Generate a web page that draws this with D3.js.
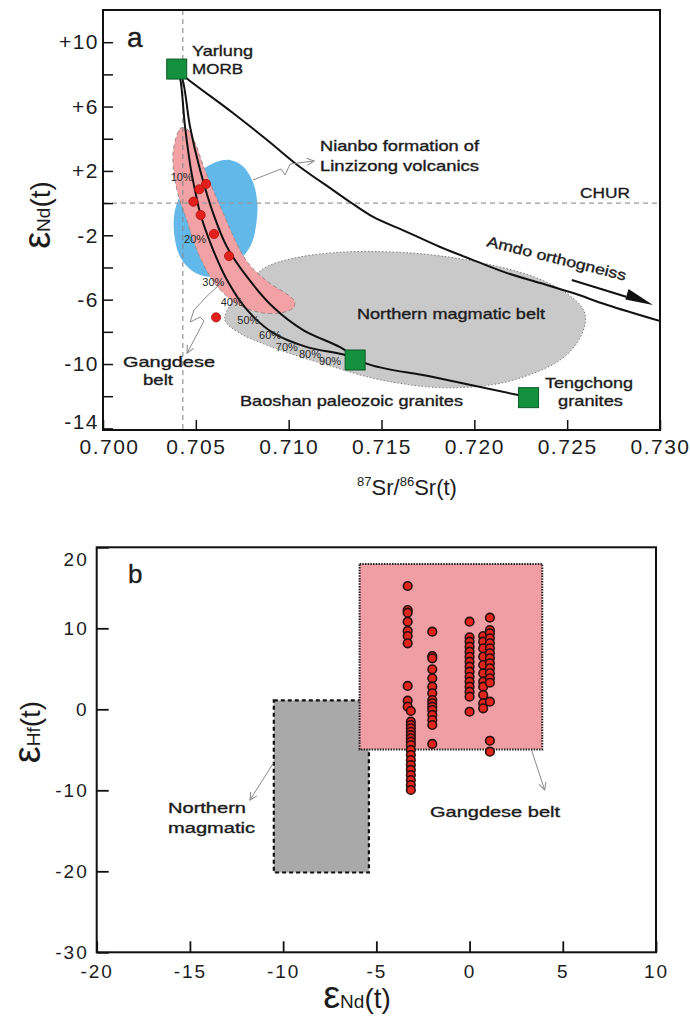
<!DOCTYPE html>
<html>
<head>
<meta charset="utf-8">
<script src="https://cdn.jsdelivr.net/npm/d3@7"></script>
<style>
  body { margin: 0; background: #fff; }
  svg { display: block; }
  text { font-family: "Liberation Sans", Arial, Helvetica, sans-serif; fill: #1c1c1c; }
  text.note { stroke: #1c1c1c; stroke-width: 0.35px; }
</style>
</head>
<body>
<svg id="chart" width="690" height="1017"></svg>
<script>
// ---------- Panel a : 87Sr/86Sr(t) vs eNd(t) ----------
const srTicks = [0.700, 0.705, 0.710, 0.715, 0.720, 0.725, 0.730];
const srTickLabels = ["0.700", "0.705", "0.710", "0.715", "0.720", "0.725", "0.730"];
const ndMajorTicks = [10, 6, 2, -2, -6, -10, -14];
const ndMajorLabels = ["+10", "+6", "+2", "-2", "-6", "-10", "-14"];
const ndMinorTicks = [8, 4, 0, -4, -8, -12];

// end-members [Sr, Nd]
const yarlungMORB = [0.70397, 8.33];
const baoshanGranite = [0.71358, -9.75];
const tengchongGranite = [0.72292, -12.09];

// Gangdese belt samples [Sr, Nd]
const gangdeseSr = [0.70555, 0.70519, 0.70487, 0.70526, 0.70598, 0.70679, 0.70609];
const gangdeseNd = [1.19, 0.86, 0.09, -0.74, -1.92, -3.29, -7.10];

// mixing curve: Yarlung MORB -> Baoshan paleozoic granites
const mixBaoshanSr = [0.70397, 0.70415, 0.70442, 0.70474, 0.70501, 0.70523, 0.70587, 0.70668, 0.70776, 0.70916, 0.71099, 0.71304, 0.71358];
const mixBaoshanNd = [8.33, 7.77, 4.73, 2.06, 0.50, -0.62, -2.73, -4.78, -6.64, -8.07, -8.95, -9.44, -9.75];

// mixing curve: Yarlung MORB -> Tengchong granites
const mixTengSr = [0.70397, 0.70426, 0.70469, 0.70523, 0.70593, 0.70668, 0.70776, 0.70916, 0.71078, 0.71277, 0.71412, 0.71778, 0.72236, 0.72292];
const mixTengNd = [8.33, 7.77, 4.73, 2.06, -0.62, -2.73, -4.59, -6.46, -7.89, -8.95, -9.94, -10.81, -11.93, -12.09];

// curve toward Amdo orthogneiss
const amdoSr = [0.70397, 0.70442, 0.70700, 0.70884, 0.71061, 0.71239, 0.71331, 0.71455, 0.71638, 0.71816, 0.71994, 0.72177, 0.72355, 0.72532, 0.72716, 0.73001];
const amdoNd = [8.33, 7.84, 5.60, 3.92, 2.24, 0.81, 0.07, -0.86, -1.80, -2.73, -3.54, -4.35, -4.97, -5.59, -6.33, -7.33];

// mixing proportions along the Baoshan curve
const mixPctLabels = ["10%", "20%", "30%", "40%", "50%", "60%", "70%", "80%", "90%"];
const mixPctSr = [0.70424, 0.70496, 0.70594, 0.70693, 0.70783, 0.70900, 0.70990, 0.71115, 0.71223];
const mixPctNd = [1.64, -2.23, -4.89, -6.13, -7.27, -8.20, -8.93, -9.38, -9.79];

// fields
const gangdeseFieldSr = [0.70420, 0.70393, 0.70377, 0.70383, 0.70409, 0.70447, 0.70485, 0.70533, 0.70603, 0.70711, 0.70835, 0.70954, 0.71024, 0.71034, 0.70997, 0.70889, 0.70781, 0.70711, 0.70652, 0.70593, 0.70539, 0.70496, 0.70458];
const gangdeseFieldNd = [4.67, 4.05, 2.99, 1.77, 0.34, -0.90, -2.27, -3.63, -5.00, -6.18, -6.77, -6.83, -6.52, -6.14, -5.71, -4.90, -3.72, -2.29, -0.74, 0.81, 2.37, 3.74, 4.54];

const nianboFieldSr = [0.70613, 0.70684, 0.70756, 0.70810, 0.70831, 0.70828, 0.70801, 0.70738, 0.70667, 0.70577, 0.70487, 0.70415, 0.70383, 0.70388, 0.70433, 0.70505, 0.70559];
const nianboFieldNd = [2.57, 2.68, 2.26, 1.23, -0.01, -1.05, -2.50, -3.53, -4.16, -4.57, -4.26, -3.33, -1.88, -0.43, 0.81, 1.75, 2.26];

const northernFieldSr = [0.70657, 0.70702, 0.70792, 0.70882, 0.71025, 0.71241, 0.71510, 0.71780, 0.72049, 0.72318, 0.72498, 0.72588, 0.72597, 0.72552, 0.72462, 0.72318, 0.72139, 0.71959, 0.71780, 0.71600, 0.71421, 0.71241, 0.71061, 0.70882, 0.70738];
const northernFieldNd = [-7.27, -6.02, -4.78, -3.95, -3.43, -3.08, -3.02, -3.23, -3.74, -4.57, -5.61, -6.64, -7.47, -8.71, -9.75, -10.58, -11.20, -11.45, -11.45, -11.20, -10.79, -10.17, -9.55, -8.82, -8.09];

// reference values
const churNd = 0;
const morbSrRef = 0.7043;

// leader lines [Sr, Nd]
const nianboLeaderSr = [0.70808, 0.70959, 0.70981, 0.71008, 0.71137];
const nianboLeaderNd = [1.44, 2.12, 1.75, 2.43, 2.62];
const gangdeseLeaderSr = [0.70636, 0.70555, 0.70490, 0.70469, 0.70523, 0.70544, 0.70453];
const gangdeseLeaderNd = [-4.97, -5.84, -6.65, -7.39, -7.08, -7.33, -9.32];
const amdoArrowSr = [0.72525, 0.72962];
const amdoArrowNd = [-4.78, -6.33];

// ---------- Panel b : eNd(t) vs eHf(t) ----------
const ndTicksB = [-20, -15, -10, -5, 0, 5, 10];
const ndTickLabelsB = ["-20", "-15", "-10", "-5", "0", "5", "10"];
const hfTicksB = [20, 10, 0, -10, -20, -30];
const hfTickLabelsB = ["20", "10", "0", "-10", "-20", "-30"];

// field extents [min, max]
const northernBoxNd = [-10.5, -5.4];
const northernBoxHf = [-20.15, 1.1];
const gangdeseBoxNd = [-5.9, 3.9];
const gangdeseBoxHf = [-4.95, 17.95];

// Gangdese samples, grouped by eNd(t)
const hfColumnNd = [-3.32, -3.15, -2.0, 0.0, 0.73, 1.09];
const hfColumnValues = [
  [15.22, 12.26, 11.93, 10.82, 9.67, 9.05, 8.15, 2.88, 1.06, 0.32],
  [-0.21, -1.53, -1.94, -2.35, -2.77, -3.17, -3.58, -4.00, -4.41, -5.02, -5.64, -6.26, -6.88, -7.49, -8.11, -8.73, -9.35, -9.96],
  [9.58, 6.58, 6.29, 4.94, 3.83, 2.79, 1.98, 1.15, 0.74, 0.32, -0.09, -0.70, -1.32, -1.94, -4.28],
  [10.82, 8.89, 8.35, 7.73, 7.11, 6.49, 5.88, 5.26, 4.64, 4.02, 3.41, 2.79, 2.17, 1.56, -0.30],
  [9.05, 8.35, 7.53, 6.49, 5.47, 4.44, 3.41, 2.79, 1.77, 0.74, 0.12],
  [11.31, 9.79, 9.38, 8.77, 8.15, 7.53, 6.91, 6.30, 5.68, 5.06, 4.44, 3.83, 3.28, 0.94, -3.88, -5.23]
];

const northernLeaderNd = [-10.53, -11.78];
const northernLeaderHf = [-6.67, -11.2];
const gangdeseLeaderNdB = [3.32, 4.03];
const gangdeseLeaderHfB = [-5.02, -9.96];

// ======================================================
const svg = d3.select("#chart");
const zip = (a, b) => a.map((v, i) => [v, b[i]]);

const xA = d3.scaleLinear().domain([0.700, 0.730]).range([103, 660]);
const yA = d3.scaleLinear().domain([-14.1, 12]).range([430, 10]);
const xB = d3.scaleLinear().domain([-20, 10]).range([96.7, 656]);
const yB = d3.scaleLinear().domain([-30, 20]).range([952.3, 547.3]);

const defs = svg.append("defs");
defs.append("marker").attr("id", "openArrow")
  .attr("viewBox", "0 0 10 10").attr("refX", 9).attr("refY", 5)
  .attr("markerWidth", 9).attr("markerHeight", 9).attr("orient", "auto")
  .attr("markerUnits", "userSpaceOnUse")
  .append("path").attr("d", "M1,1 L9,5 L1,9").attr("fill", "none")
  .attr("stroke", "#8a8a8a").attr("stroke-width", 1.2);

function label(g, x, y, str, size, opts = {}) {
  const t = g.append("text").attr("class", "note").attr("x", x).attr("y", y)
    .attr("font-size", size).text(str);
  if (opts.anchor) t.attr("text-anchor", opts.anchor);
  if (opts.width) t.attr("textLength", opts.width).attr("lengthAdjust", "spacingAndGlyphs");
  if (opts.transform) t.attr("transform", opts.transform);
  return t;
}

// ---------------- Panel a ----------------
const gA = svg.append("g");
const lineA = d3.line().x(d => xA(d[0])).y(d => yA(d[1]));
const smoothA = d3.line().x(d => xA(d[0])).y(d => yA(d[1])).curve(d3.curveCatmullRom.alpha(0.5));
const closedA = d3.line().x(d => xA(d[0])).y(d => yA(d[1])).curve(d3.curveCatmullRomClosed.alpha(0.5));

// Northern magmatic belt field
gA.append("path").attr("d", closedA(zip(northernFieldSr, northernFieldNd)))
  .attr("fill", "#c9c9c9").attr("stroke", "#7a7a7a").attr("stroke-width", 1)
  .attr("stroke-dasharray", "1.5,2");
// Nianbo formation field
gA.append("path").attr("d", closedA(zip(nianboFieldSr, nianboFieldNd)))
  .attr("fill", "#61b8e9").attr("stroke", "none");
// Gangdese belt field
gA.append("path").attr("d", closedA(zip(gangdeseFieldSr, gangdeseFieldNd)))
  .attr("fill", "#f2a2a5").attr("stroke", "#a08888").attr("stroke-width", 1)
  .attr("stroke-dasharray", "4,3");

// CHUR and reference dashed lines
gA.append("line").attr("x1", xA(0.700)).attr("x2", xA(0.730))
  .attr("y1", yA(churNd)).attr("y2", yA(churNd))
  .attr("stroke", "#9a9a9a").attr("stroke-width", 1.1).attr("stroke-dasharray", "5,4");
gA.append("line").attr("x1", xA(morbSrRef)).attr("x2", xA(morbSrRef))
  .attr("y1", yA(12)).attr("y2", yA(-14.1))
  .attr("stroke", "#8a8a8a").attr("stroke-width", 1.1).attr("stroke-dasharray", "5,4");

// curves
const clipA = defs.append("clipPath").attr("id", "clipA");
clipA.append("rect").attr("x", xA(0.700)).attr("y", yA(12)).attr("width", xA(0.730) - xA(0.700)).attr("height", yA(-14.1) - yA(12));
const curves = gA.append("g").attr("clip-path", "url(#clipA)");
[[mixBaoshanSr, mixBaoshanNd], [mixTengSr, mixTengNd], [amdoSr, amdoNd]].forEach(([sx, sy]) => {
  curves.append("path").attr("d", smoothA(zip(sx, sy)))
    .attr("fill", "none").attr("stroke", "#111").attr("stroke-width", 2);
});

// leader lines
gA.append("path").attr("d", lineA(zip(nianboLeaderSr, nianboLeaderNd)))
  .attr("fill", "none").attr("stroke", "#8a8a8a").attr("stroke-width", 1)
  .attr("marker-end", "url(#openArrow)");
gA.append("path").attr("d", lineA(zip(gangdeseLeaderSr, gangdeseLeaderNd)))
  .attr("fill", "none").attr("stroke", "#8a8a8a").attr("stroke-width", 1)
  .attr("marker-end", "url(#openArrow)");

// Amdo direction arrow
{
  const x1 = xA(amdoArrowSr[0]), y1 = yA(amdoArrowNd[0]);
  const x2 = xA(amdoArrowSr[1]), y2 = yA(amdoArrowNd[1]);
  const ang = Math.atan2(y2 - y1, x2 - x1);
  const headLen = 28, headHalf = 8;
  const bx = x2 - headLen * Math.cos(ang), by = y2 - headLen * Math.sin(ang);
  gA.append("line").attr("x1", x1).attr("y1", y1).attr("x2", bx).attr("y2", by)
    .attr("stroke", "#111").attr("stroke-width", 2);
  const px = -Math.sin(ang), py = Math.cos(ang);
  gA.append("path")
    .attr("d", `M${x2},${y2} L${bx - px * headHalf},${by - py * headHalf} L${bx + px * headHalf * 0.35},${by + py * headHalf * 0.35} Z`)
    .attr("fill", "#111");
}

// mixing percentage labels
gA.selectAll("text.pct").data(mixPctLabels).join("text").attr("class", "pct")
  .attr("x", (d, i) => xA(mixPctSr[i])).attr("y", (d, i) => yA(mixPctNd[i]) + 4)
  .attr("text-anchor", "middle").attr("font-size", 11).style("fill", "#2a2a2a")
  .text(d => d);

// Gangdese samples
gA.selectAll("circle.gd").data(zip(gangdeseSr, gangdeseNd)).join("circle").attr("class", "gd")
  .attr("cx", d => xA(d[0])).attr("cy", d => yA(d[1])).attr("r", 4.6)
  .attr("fill", "#e3201b").attr("stroke", "#b01010").attr("stroke-width", 0.8);

// end-member squares
const sq = 20;
gA.selectAll("rect.em").data([yarlungMORB, baoshanGranite, tengchongGranite]).join("rect").attr("class", "em")
  .attr("x", d => xA(d[0]) - sq / 2).attr("y", d => yA(d[1]) - sq / 2)
  .attr("width", sq).attr("height", sq)
  .attr("fill", "#14913f").attr("stroke", "#0b5a26").attr("stroke-width", 1);

// frame
gA.append("rect").attr("x", xA(0.700)).attr("y", yA(12))
  .attr("width", xA(0.730) - xA(0.700)).attr("height", yA(-14.1) - yA(12))
  .attr("fill", "none").attr("stroke", "#111").attr("stroke-width", 2);

// axes
const axAx = d3.axisBottom(xA).tickValues(srTicks).tickSizeInner(-10).tickSizeOuter(0).tickPadding(9)
  .tickFormat((d, i) => srTickLabels[i]);
const gAx = gA.append("g").attr("transform", `translate(0,${yA(-14.1)})`).call(axAx);
const ndAll = ndMajorTicks.concat(ndMinorTicks);
const axAy = d3.axisLeft(yA).tickValues(ndAll).tickSizeInner(-10).tickSizeOuter(0).tickPadding(4)
  .tickFormat(d => { const i = ndMajorTicks.indexOf(d); return i >= 0 ? ndMajorLabels[i] : ""; });
const gAy = gA.append("g").attr("transform", `translate(${xA(0.700)},0)`).call(axAy);
[gAx, gAy].forEach(g => {
  g.select(".domain").remove();
  g.selectAll("line").attr("stroke", "#111").attr("stroke-width", 1.5);
  g.selectAll("text").attr("font-size", 21).attr("font-family", null)
    .style("letter-spacing", "1.5px").style("fill", "#1c1c1c");
});
// corner labels are pulled clear of each other
gAy.selectAll(".tick").filter(d => d === -14).select("text").attr("y", -7);
gAx.selectAll(".tick").filter(d => d === 0.700).select("text").attr("x", 6);

// text annotations
label(gA, 127, 47, "a", 28);
label(gA, 192, 56, "Yarlung", 15, { width: 61 });
label(gA, 192, 74, "MORB", 15, { width: 51 });
label(gA, 320, 151, "Nianbo formation of", 14.5, { width: 159 });
label(gA, 320, 171, "Linzizong volcanics", 14.5, { width: 159 });
label(gA, 580, 198, "CHUR", 15, { width: 50 });
label(gA, 486, 246, "Amdo orthogneiss", 14.5, { width: 143, transform: "rotate(14 486 246)" });
label(gA, 357, 319, "Northern magmatic belt", 15, { width: 188 });
label(gA, 240, 406, "Baoshan paleozoic granites", 15, { width: 223 });
label(gA, 545, 388, "Tengchong", 15, { width: 88 });
label(gA, 558, 406, "granites", 15, { width: 65 });
label(gA, 123, 367, "Gangdese", 15, { width: 92 });
label(gA, 143, 385, "belt", 15, { width: 30 });

// axis titles
{
  const t = gA.append("text").attr("transform", "translate(50,215) rotate(-90)").attr("text-anchor", "middle");
  t.append("tspan").attr("font-size", 38).text("ε");
  t.append("tspan").attr("font-size", 19).text("Nd");
  t.append("tspan").attr("font-size", 28).text("(t)");
  const x = gA.append("text").attr("x", 407).attr("y", 495).attr("text-anchor", "middle").attr("font-size", 22);
  x.append("tspan").attr("font-size", 13).attr("dy", -9).text("87");
  x.append("tspan").attr("dy", 9).text("Sr/");
  x.append("tspan").attr("font-size", 13).attr("dy", -9).text("86");
  x.append("tspan").attr("dy", 9).text("Sr(t)");
}

// ---------------- Panel b ----------------
const gB = svg.append("g");
const lineB = d3.line().x(d => xB(d[0])).y(d => yB(d[1]));

gB.append("rect")
  .attr("x", xB(northernBoxNd[0])).attr("y", yB(northernBoxHf[1]))
  .attr("width", xB(northernBoxNd[1]) - xB(northernBoxNd[0]))
  .attr("height", yB(northernBoxHf[0]) - yB(northernBoxHf[1]))
  .attr("fill", "#a9a9a9").attr("stroke", "#111").attr("stroke-width", 2.2)
  .attr("stroke-dasharray", "4,3");
gB.append("rect")
  .attr("x", xB(gangdeseBoxNd[0])).attr("y", yB(gangdeseBoxHf[1]))
  .attr("width", xB(gangdeseBoxNd[1]) - xB(gangdeseBoxNd[0]))
  .attr("height", yB(gangdeseBoxHf[0]) - yB(gangdeseBoxHf[1]))
  .attr("fill", "#ef9ea4").attr("stroke", "#222").attr("stroke-width", 2)
  .attr("stroke-dasharray", "1.5,1.2");

const hfPoints = hfColumnNd.flatMap((nd, i) => hfColumnValues[i].map(hf => [nd, hf]));
gB.selectAll("circle.hf").data(hfPoints).join("circle").attr("class", "hf")
  .attr("cx", d => xB(d[0])).attr("cy", d => yB(d[1])).attr("r", 4.3)
  .attr("fill", "#e1241c").attr("stroke", "#2a1010").attr("stroke-width", 1.6);

gB.append("path").attr("d", lineB(zip(northernLeaderNd, northernLeaderHf)))
  .attr("fill", "none").attr("stroke", "#8a8a8a").attr("stroke-width", 1)
  .attr("marker-end", "url(#openArrow)");
gB.append("path").attr("d", lineB(zip(gangdeseLeaderNdB, gangdeseLeaderHfB)))
  .attr("fill", "none").attr("stroke", "#8a8a8a").attr("stroke-width", 1)
  .attr("marker-end", "url(#openArrow)");

gB.append("rect").attr("x", xB(-20)).attr("y", yB(20))
  .attr("width", xB(10) - xB(-20)).attr("height", yB(-30) - yB(20))
  .attr("fill", "none").attr("stroke", "#111").attr("stroke-width", 2);

const axBx = d3.axisBottom(xB).tickValues(ndTicksB).tickSizeInner(-11).tickSizeOuter(0).tickPadding(12)
  .tickFormat((d, i) => ndTickLabelsB[i]);
const gBx = gB.append("g").attr("transform", `translate(0,${yB(-30)})`).call(axBx);
const axBy = d3.axisLeft(yB).tickValues(hfTicksB).tickSizeInner(-12).tickSizeOuter(0).tickPadding(8)
  .tickFormat((d, i) => hfTickLabelsB[i]);
const gBy = gB.append("g").attr("transform", `translate(${xB(-20)},0)`).call(axBy);
[gBx, gBy].forEach(g => {
  g.select(".domain").remove();
  g.selectAll("line").attr("stroke", "#111").attr("stroke-width", 1.8);
  g.selectAll("text").attr("font-size", 19).attr("font-family", null)
    .style("letter-spacing", "2px").style("fill", "#1c1c1c");
});
gBy.selectAll(".tick").filter(d => d === 20).select("text").attr("dy", "0.95em");

label(gB, 128, 583, "b", 26);
label(gB, 168, 813, "Northern", 14, { width: 78 });
label(gB, 168, 833, "magmatic", 14, { width: 87 });
label(gB, 430, 817, "Gangdese belt", 15, { width: 130 });

{
  const t = gB.append("text").attr("transform", "translate(40,732) rotate(-90)").attr("text-anchor", "middle");
  t.append("tspan").attr("font-size", 38).text("ε");
  t.append("tspan").attr("font-size", 19).text("Hf");
  t.append("tspan").attr("font-size", 28).text("(t)");
  const x = gB.append("text").attr("x", 357).attr("y", 1008).attr("text-anchor", "middle");
  x.append("tspan").attr("font-size", 38).text("ε");
  x.append("tspan").attr("font-size", 19).text("Nd");
  x.append("tspan").attr("font-size", 28).text("(t)");
}
</script>
</body>
</html>
